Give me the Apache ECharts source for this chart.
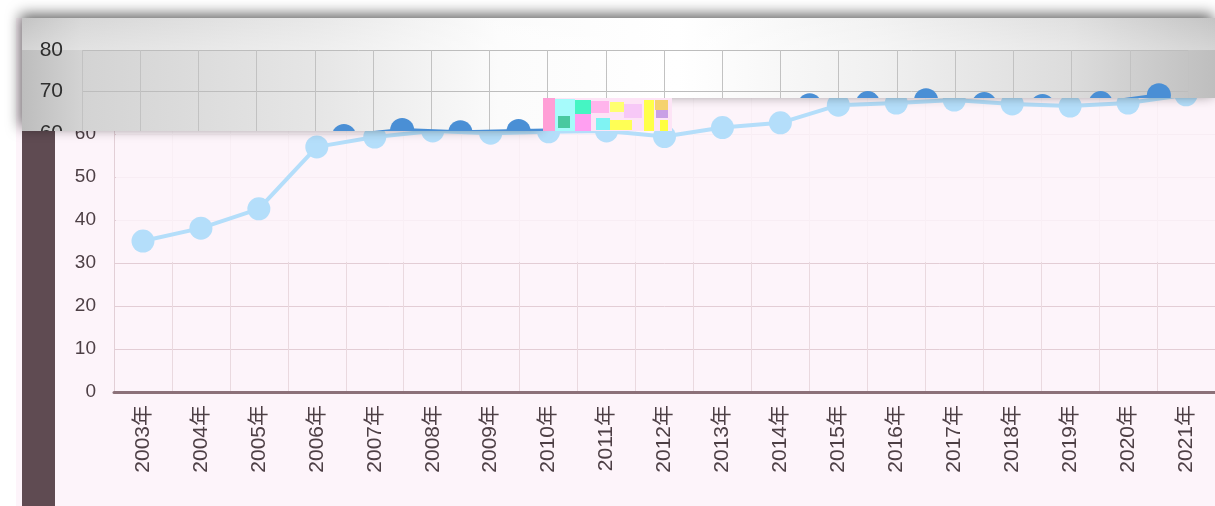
<!DOCTYPE html>
<html>
<head>
<meta charset="utf-8">
<script src="https://cdn.jsdelivr.net/npm/echarts@6/dist/echarts.min.js"></script>
<style>
    html, body { margin: 0; padding: 0; background: #fff; }
    #main, #lens { position: absolute; left: 0; top: 0; width: 1215px; height: 506px; }
    #lens { clip-path: polygon(22px 18px, 1215px 18px, 1215px 98px, 543px 98px, 543px 131px, 22px 131px); }
</style>
</head>
<body>
<div id="main"></div>
<div id="lens"></div>
<script>
const years = ['2003年', '2004年', '2005年', '2006年', '2007年', '2008年', '2009年', '2010年', '2011年', '2012年',
    '2013年', '2014年', '2015年', '2016年', '2017年', '2018年', '2019年', '2020年', '2021年'];
const rateValues = [35.1, 38.1, 42.6, 57.0, 59.3, 60.7, 60.2, 60.5, 60.7, 59.4,
    61.5, 62.6, 66.7, 67.2, 67.9, 67.0, 66.5, 67.2, 69.1];
const yMin = 0;
const yMax = 80;
const yStep = 10;

const labelFont = 'Liberation Sans, Noto Sans CJK SC, sans-serif';
const lensShape = [[22, 18], [1215, 18], [1215, 98], [543, 98], [543, 131], [22, 131]];

// main chart (pink one underneath)
const chart = echarts.init(document.getElementById('main'));
chart.setOption({
    backgroundColor: '#fdf4fa',
    animation: false,
    grid: { left: 114, right: -5, top: 48, bottom: 114 },
    xAxis: {
        type: 'category',
        data: years,
        boundaryGap: true,
        axisLine: { lineStyle: { color: '#8c7179', width: 3 } },
        axisTick: { show: false },
        splitLine: { show: true, lineStyle: { color: '#ead9df' } },
        axisLabel: { rotate: 90, margin: 13, fontSize: 21, color: '#4d3f45', fontFamily: labelFont }
    },
    yAxis: {
        type: 'value',
        min: yMin,
        max: yMax,
        interval: yStep,
        axisLine: { show: true, lineStyle: { color: '#e2cfd6' } },
        axisTick: { show: false },
        splitLine: { lineStyle: { color: '#e3cdd5' } },
        axisLabel: { margin: 18, fontSize: 19, color: '#4d3f45', fontFamily: labelFont }
    },
    series: [{
        type: 'line',
        data: rateValues,
        symbol: 'circle',
        symbolSize: 23,
        z: 4,
        lineStyle: { color: '#b4defa', width: 4 },
        itemStyle: { color: '#b4defa' }
    }],
    graphic: [
        { type: 'rect', z: 1, shape: { x: 0, y: 0, width: 16, height: 506 }, style: { fill: '#fff' } },
        { type: 'rect', z: 1, shape: { x: 0, y: 0, width: 1215, height: 18 }, style: { fill: '#fff' } },
        // washed-out upper half of the plot
        { type: 'rect', z: 1, shape: { x: 116, y: 98, width: 1100, height: 164 }, style: { fill: 'rgba(253,244,250,0.82)' } },
        { type: 'rect', z: 6, shape: { x: 22, y: 18, width: 33, height: 488 }, style: { fill: '#5f4b52' } },
        // shadow of the lens box
        {
            type: 'polygon', z: 8,
            shape: { points: lensShape },
            style: { fill: '#c8c8c8', shadowBlur: 14, shadowColor: 'rgba(0,0,0,0.6)', shadowOffsetX: -2, shadowOffsetY: -4 }
        },
        // noisy glitch block
        { type: 'rect', z: 9, shape: { x: 543, y: 98, width: 129, height: 33 }, style: { fill: '#fde4f6' } },
        { type: 'rect', z: 9, shape: { x: 543, y: 98, width: 12, height: 33 }, style: { fill: '#ff9fd6' } },
        { type: 'rect', z: 9, shape: { x: 555, y: 99, width: 20, height: 32 }, style: { fill: '#a6fbfb' } },
        { type: 'rect', z: 9, shape: { x: 558, y: 116, width: 12, height: 12 }, style: { fill: '#49c9a0' } },
        { type: 'rect', z: 9, shape: { x: 575, y: 100, width: 16, height: 14 }, style: { fill: '#45f5c3' } },
        { type: 'rect', z: 9, shape: { x: 575, y: 114, width: 16, height: 17 }, style: { fill: '#ff9ff1' } },
        { type: 'rect', z: 9, shape: { x: 591, y: 101, width: 18, height: 12 }, style: { fill: '#ffb4ec' } },
        { type: 'rect', z: 9, shape: { x: 596, y: 118, width: 14, height: 12 }, style: { fill: '#7ff3f3' } },
        { type: 'rect', z: 9, shape: { x: 610, y: 102, width: 14, height: 10 }, style: { fill: '#ffff70' } },
        { type: 'rect', z: 9, shape: { x: 610, y: 120, width: 22, height: 10 }, style: { fill: '#ffff55' } },
        { type: 'rect', z: 9, shape: { x: 624, y: 104, width: 18, height: 14 }, style: { fill: '#f7c8f7' } },
        { type: 'rect', z: 9, shape: { x: 644, y: 100, width: 10, height: 31 }, style: { fill: '#ffff4a' } },
        { type: 'rect', z: 9, shape: { x: 655, y: 100, width: 13, height: 10 }, style: { fill: '#f5d26e' } },
        { type: 'rect', z: 9, shape: { x: 656, y: 110, width: 12, height: 8 }, style: { fill: '#c9a0e6' } },
        { type: 'rect', z: 9, shape: { x: 660, y: 120, width: 8, height: 11 }, style: { fill: '#ffff40' } }
    ]
});

// grey magnified copy on top, clipped by css
const lens = echarts.init(document.getElementById('lens'));
lens.setOption({
    animation: false,
    grid: { left: 82, right: 27, top: 50, bottom: 124 },
    xAxis: {
        type: 'category',
        data: years,
        axisLine: { show: false },
        axisTick: { show: false },
        axisLabel: { show: false },
        splitLine: { show: true, lineStyle: { color: '#c2c2c2' } }
    },
    yAxis: {
        type: 'value',
        min: yMin,
        max: yMax,
        interval: yStep,
        axisLine: { show: false },
        axisTick: { show: false },
        splitLine: { lineStyle: { color: '#bdbdbd' } },
        axisLabel: { margin: 19, fontSize: 21, color: '#2e2e2e', fontFamily: labelFont }
    },
    series: [{
        type: 'line',
        data: rateValues,
        symbol: 'circle',
        symbolSize: 24,
        clip: false,
        lineStyle: { color: '#4a8fd5', width: 4 },
        itemStyle: { color: '#4a8fd5' }
    }],
    graphic: [
        {
            type: 'rect', z: -10, silent: true,
            shape: { x: 22, y: 18, width: 1193, height: 113 },
            style: {
                fill: new echarts.graphic.LinearGradient(0, 0, 1, 0, [
                    { offset: 0, color: '#bdbdbd' },
                    { offset: 0.05, color: '#d3d3d3' },
                    { offset: 0.25, color: '#e6e6e6' },
                    { offset: 0.4, color: '#fbfbfb' },
                    { offset: 0.55, color: '#ffffff' },
                    { offset: 0.72, color: '#f0f0f0' },
                    { offset: 0.88, color: '#dcdcdc' },
                    { offset: 1, color: '#bebebe' }
                ])
            }
        },
        {
            type: 'rect', z: -9, silent: true,
            shape: { x: 22, y: 18, width: 1193, height: 32 },
            style: {
                fill: new echarts.graphic.LinearGradient(0, 0, 0, 1, [
                    { offset: 0, color: 'rgba(255,255,255,0.1)' },
                    { offset: 1, color: 'rgba(255,255,255,0.35)' }
                ])
            }
        }
    ]
});

window.addEventListener('resize', () => {
    chart.resize();
    lens.resize();
});
</script>
</body>
</html>
